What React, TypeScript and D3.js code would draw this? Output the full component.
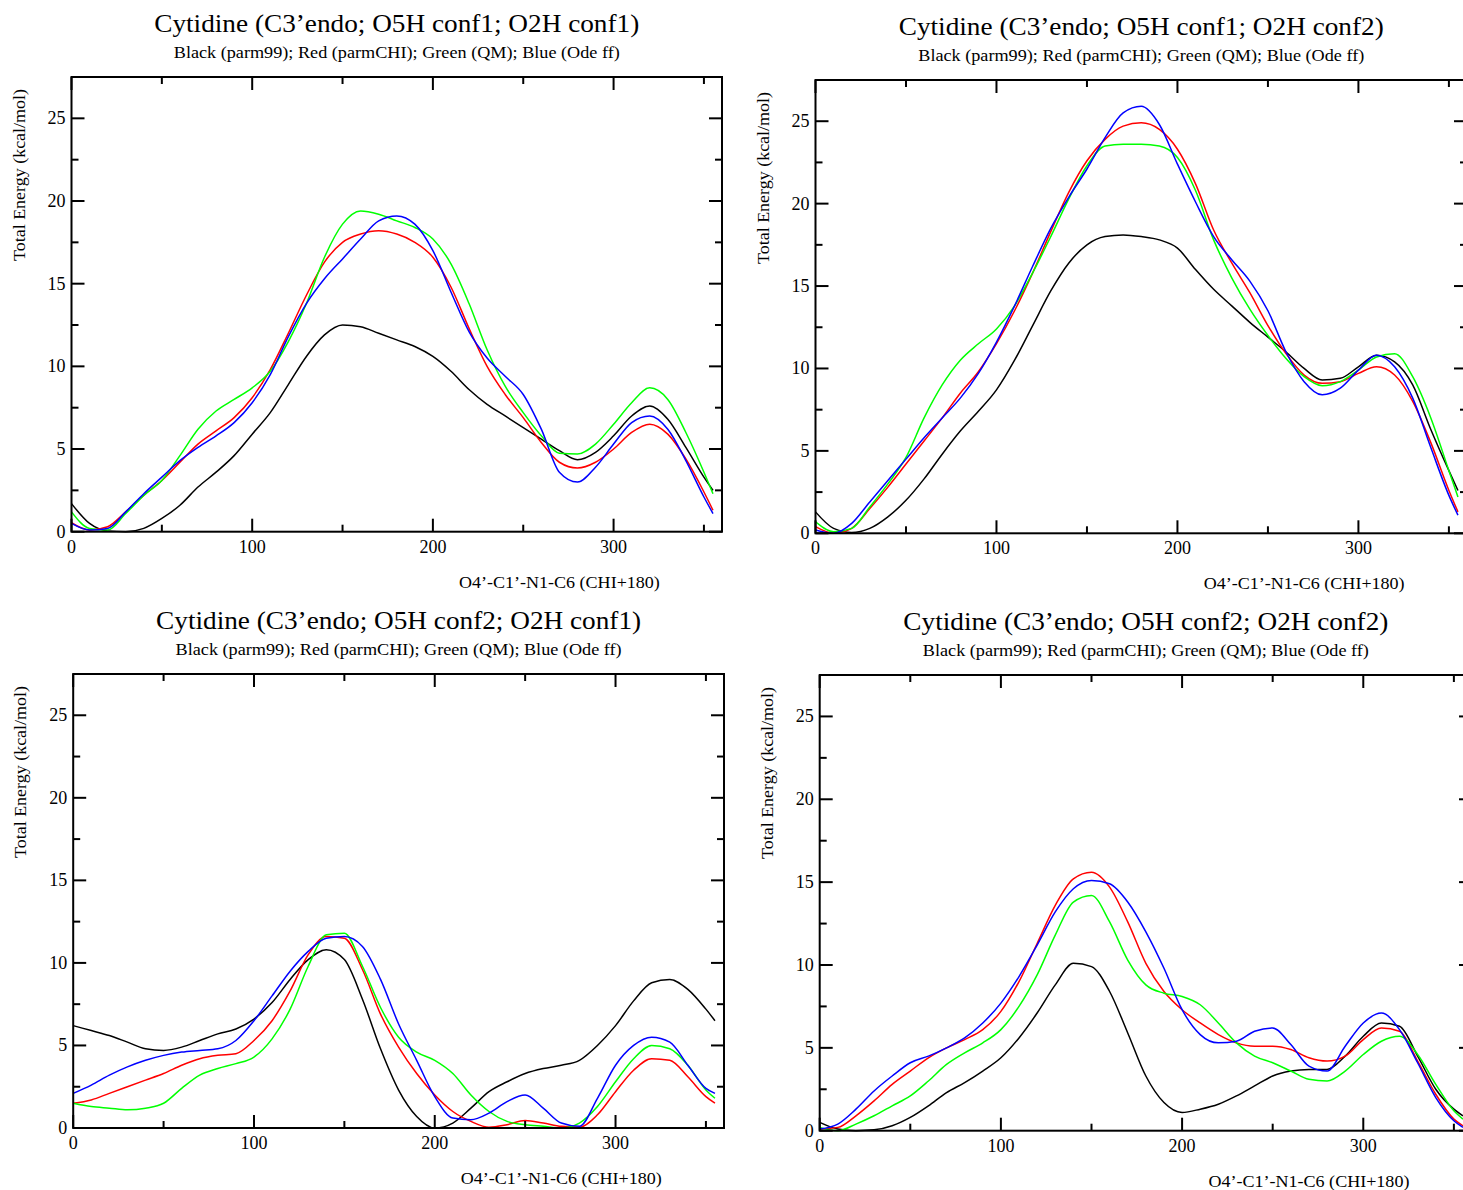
import React from "react";
import * as d3 from "d3";

const angles = [0,10,20,30,40,50,60,70,80,90,100,110,120,130,140,150,160,170,180,190,200,210,220,230,240,250,260,270,280,290,300,310,320,330,340,350,355];

const xTicksMajor = [0, 100, 200, 300];
const xTicksMinor = [50, 150, 250, 350];
const yTicksMajor = [0, 5, 10, 15, 20, 25];
const yTicksMinor = [2.5, 7.5, 12.5, 17.5, 22.5];

const seriesNames = ["parm99", "parmCHI", "QM", "Ode ff"];
const seriesColors = ["#000000", "#ff0000", "#00ff00", "#0000ff"];

const titles = [
  "Cytidine (C3\u2019endo; O5H conf1; O2H conf1)",
  "Cytidine (C3\u2019endo; O5H conf1; O2H conf2)",
  "Cytidine (C3\u2019endo; O5H conf2; O2H conf1)",
  "Cytidine (C3\u2019endo; O5H conf2; O2H conf2)",
];
const subtitle = "Black (parm99); Red (parmCHI); Green (QM); Blue (Ode ff)";
const xLabel = "O4\u2019-C1\u2019-N1-C6 (CHI+180)";
const yLabel = "Total Energy (kcal/mol)";

// Panel 1: conf1 / conf1
const p1Black = [1.7,0.5,0.05,0.0,0.2,0.8,1.6,2.7,3.6,4.6,5.9,7.2,8.9,10.6,11.9,12.5,12.4,12.0,11.6,11.2,10.6,9.7,8.6,7.7,7.0,6.3,5.6,4.9,4.35,4.8,5.8,7.0,7.6,6.8,5.1,3.3,2.5];
const p1Red = [0.55,0.1,0.3,1.2,2.2,3.1,4.2,5.3,6.1,6.9,8.1,9.8,12.0,14.3,16.3,17.5,18.0,18.2,18.0,17.5,16.6,14.8,12.3,10.0,8.3,6.9,5.4,4.2,3.85,4.2,5.0,6.0,6.5,5.9,4.4,2.4,1.3];
const p1Green = [1.2,0.2,0.1,1.1,2.2,3.1,4.6,6.2,7.3,8.0,8.7,9.7,11.5,13.8,16.6,18.6,19.4,19.2,18.8,18.4,17.7,16.2,13.8,11.0,8.8,7.2,5.8,4.75,4.7,5.3,6.5,7.8,8.7,8.0,6.0,3.6,2.3];
const p1Blue = [0.5,0.1,0.2,1.2,2.3,3.3,4.3,5.1,5.8,6.6,7.8,9.5,11.8,13.8,15.3,16.5,17.7,18.8,19.1,18.6,17.0,14.5,12.1,10.5,9.4,8.3,6.2,3.6,3.0,3.9,5.3,6.6,7.0,6.2,4.3,2.1,1.1];

// Panel 2: conf1 / conf2
const p2Black = [1.3,0.3,0.05,0.3,1.0,2.0,3.3,4.8,6.2,7.4,8.7,10.5,12.6,14.7,16.4,17.5,18.0,18.1,18.0,17.8,17.3,16.0,14.8,13.8,12.8,11.9,11.0,10.0,9.3,9.4,10.1,10.8,10.4,9.0,6.3,3.8,2.6];
const p2Red = [0.4,0.0,0.3,1.5,2.8,4.2,5.6,7.0,8.5,9.8,11.5,13.5,15.8,18.3,20.7,22.6,23.9,24.7,24.9,24.5,23.3,21.2,18.4,16.4,14.6,12.6,10.9,9.6,9.1,9.2,9.7,10.1,9.6,8.0,5.5,2.6,1.3];
const p2Green = [0.7,0.1,0.3,1.6,3.0,4.6,7.0,9.0,10.5,11.5,12.4,13.8,15.8,18.0,20.3,22.3,23.5,23.6,23.6,23.5,22.8,20.8,17.8,15.5,13.6,12.0,10.6,9.5,8.95,9.2,9.9,10.7,10.9,9.5,7.0,3.8,2.2];
const p2Blue = [0.2,0.0,0.6,1.9,3.2,4.5,5.8,7.0,8.2,9.7,11.6,13.8,16.2,18.5,20.4,22.1,24.0,25.5,25.9,24.8,22.4,20.1,18.0,16.6,15.3,13.5,11.0,9.2,8.4,8.8,9.9,10.8,10.1,8.2,5.2,2.3,1.1];

// Panel 3: conf2 / conf1
const p3Black = [6.2,5.9,5.6,5.2,4.8,4.7,4.9,5.3,5.7,6.0,6.6,7.6,9.0,10.2,10.8,10.2,7.8,4.8,2.3,0.7,0.0,0.3,1.2,2.2,2.8,3.3,3.6,3.8,4.1,5.0,6.2,7.7,8.8,9.0,8.4,7.2,6.5];
const p3Red = [1.5,1.7,2.1,2.5,2.9,3.3,3.8,4.2,4.4,4.5,5.3,6.5,8.3,10.5,11.6,11.5,9.6,6.9,4.9,3.3,2.0,1.0,0.4,0.05,0.2,0.45,0.3,0.1,0.05,0.8,2.2,3.5,4.2,4.1,3.1,1.9,1.5];
const p3Green = [1.5,1.3,1.2,1.1,1.2,1.5,2.4,3.2,3.6,3.9,4.3,5.4,7.2,9.8,11.7,11.8,9.8,7.3,5.5,4.6,4.1,3.3,2.0,1.0,0.4,0.2,0.1,0.0,0.3,1.3,2.8,4.2,5.0,4.8,3.8,2.3,1.8];
const p3Blue = [2.1,2.6,3.2,3.7,4.1,4.4,4.6,4.7,4.8,5.3,6.5,8.0,9.5,10.7,11.5,11.6,11.0,9.0,6.3,4.1,1.9,0.6,0.5,0.9,1.6,2.0,1.2,0.3,0.1,1.8,3.8,5.0,5.5,5.2,3.8,2.4,2.1];

// Panel 4: conf2 / conf2
const p4Black = [0.5,0.1,0.0,0.05,0.3,0.8,1.5,2.3,2.9,3.6,4.4,5.6,7.1,8.8,10.1,9.9,8.4,5.9,3.3,1.7,1.1,1.3,1.6,2.1,2.7,3.3,3.6,3.7,3.7,4.5,5.7,6.5,6.3,4.5,2.5,1.3,0.9];
const p4Red = [0.1,0.2,0.9,1.8,2.8,3.6,4.4,5.0,5.5,6.1,7.2,9.0,11.3,13.6,15.2,15.6,14.7,12.6,10.1,8.4,7.3,6.5,5.8,5.3,5.1,5.1,4.9,4.4,4.2,4.5,5.5,6.2,6.0,4.2,2.2,0.7,0.3];
const p4Green = [0.2,0.0,0.4,0.9,1.5,2.1,3.0,4.0,4.7,5.3,6.1,7.5,9.4,11.8,13.8,14.2,12.6,10.3,8.8,8.3,8.1,7.6,6.5,5.3,4.5,4.1,3.6,3.1,3.0,3.6,4.6,5.4,5.7,4.6,2.8,1.2,0.7];
const p4Blue = [0.1,0.4,1.3,2.4,3.3,4.1,4.5,5.0,5.6,6.5,7.7,9.3,11.2,13.2,14.6,15.1,14.9,13.8,12.0,9.8,7.3,5.8,5.3,5.4,6.0,6.2,5.2,3.9,3.6,5.1,6.5,7.1,6.1,4.1,2.0,0.6,0.2];

const panelData = [
  [p1Black, p1Red, p1Green, p1Blue],
  [p2Black, p2Red, p2Green, p2Blue],
  [p3Black, p3Red, p3Green, p3Blue],
  [p4Black, p4Red, p4Green, p4Blue],
];

const panelBoxes = [
  { left: 71.5, right: 722, top: 77, bottom: 531.7 },
  { left: 815.5, right: 1467, top: 80, bottom: 533.3 },
  { left: 73.2, right: 724, top: 674, bottom: 1128 },
  { left: 819.7, right: 1472, top: 675, bottom: 1130.7 },
];

const FONT = "'Liberation Serif', 'Times New Roman', serif";

function Panel({ idx }: { idx: number }) {
  const b = panelBoxes[idx];
  const x = d3.scaleLinear().domain([0, 360]).range([b.left, b.right]);
  const y = d3.scaleLinear().domain([0, 27.5]).range([b.bottom, b.top]);
  const line = d3
    .line<number>()
    .x((_, i) => x(angles[i]))
    .y((v) => y(v))
    .curve(d3.curveMonotoneX);
  const MAJ = 13;
  const MIN = 7;
  const cx = (b.left + b.right) / 2;
  return (
    <g>
      <text
        x={cx}
        y={b.top - 45}
        textAnchor="middle"
        fontFamily={FONT}
        fontSize={26}
        textLength={485}
        lengthAdjust="spacingAndGlyphs"
      >
        {titles[idx]}
      </text>
      <text
        x={cx}
        y={b.top - 19}
        textAnchor="middle"
        fontFamily={FONT}
        fontSize={16.5}
        textLength={446}
        lengthAdjust="spacingAndGlyphs"
      >
        {subtitle}
      </text>
      {panelData[idx].map((s, k) => (
        <path key={k} d={line(s) || ""} fill="none" stroke={seriesColors[k]} strokeWidth={1.5}>
          <title>{seriesNames[k]}</title>
        </path>
      ))}
      <rect
        x={b.left}
        y={b.top}
        width={b.right - b.left}
        height={b.bottom - b.top}
        fill="none"
        stroke="#000"
        strokeWidth={2}
      />
      {xTicksMajor.map((t) => (
        <g key={"xm" + t}>
          <line x1={x(t)} x2={x(t)} y1={b.bottom} y2={b.bottom - MAJ} stroke="#000" strokeWidth={2} />
          <line x1={x(t)} x2={x(t)} y1={b.top} y2={b.top + MAJ} stroke="#000" strokeWidth={2} />
          <text x={x(t)} y={b.bottom + 21} textAnchor="middle" fontFamily={FONT} fontSize={18}>
            {t}
          </text>
        </g>
      ))}
      {xTicksMinor.map((t) => (
        <g key={"xn" + t}>
          <line x1={x(t)} x2={x(t)} y1={b.bottom} y2={b.bottom - MIN} stroke="#000" strokeWidth={2} />
          <line x1={x(t)} x2={x(t)} y1={b.top} y2={b.top + MIN} stroke="#000" strokeWidth={2} />
        </g>
      ))}
      {yTicksMajor.map((t) => (
        <g key={"ym" + t}>
          <line x1={b.left} x2={b.left + MAJ} y1={y(t)} y2={y(t)} stroke="#000" strokeWidth={2} />
          <line x1={b.right} x2={b.right - MAJ} y1={y(t)} y2={y(t)} stroke="#000" strokeWidth={2} />
          <text x={b.left - 6} y={y(t) + 6} textAnchor="end" fontFamily={FONT} fontSize={18}>
            {t}
          </text>
        </g>
      ))}
      {yTicksMinor.map((t) => (
        <g key={"yn" + t}>
          <line x1={b.left} x2={b.left + MIN} y1={y(t)} y2={y(t)} stroke="#000" strokeWidth={2} />
          <line x1={b.right} x2={b.right - MIN} y1={y(t)} y2={y(t)} stroke="#000" strokeWidth={2} />
        </g>
      ))}
      <text
        x={b.left + 0.75 * (b.right - b.left)}
        y={b.bottom + 56}
        textAnchor="middle"
        fontFamily={FONT}
        fontSize={17}
        textLength={201}
        lengthAdjust="spacingAndGlyphs"
      >
        {xLabel}
      </text>
      <text
        transform={`translate(${b.left - 47},${b.top + 98}) rotate(-90)`}
        textAnchor="middle"
        fontFamily={FONT}
        fontSize={17}
        textLength={172}
        lengthAdjust="spacingAndGlyphs"
      >
        {yLabel}
      </text>
    </g>
  );
}

export default function App() {
  return (
    <svg
      width={1463}
      height={1190}
      style={{ position: "absolute", left: 0, top: 0, background: "#fff" }}
    >
      <rect x={0} y={0} width={1463} height={1190} fill="#fff" />
      {[0, 1, 2, 3].map((i) => (
        <Panel key={i} idx={i} />
      ))}
    </svg>
  );
}
